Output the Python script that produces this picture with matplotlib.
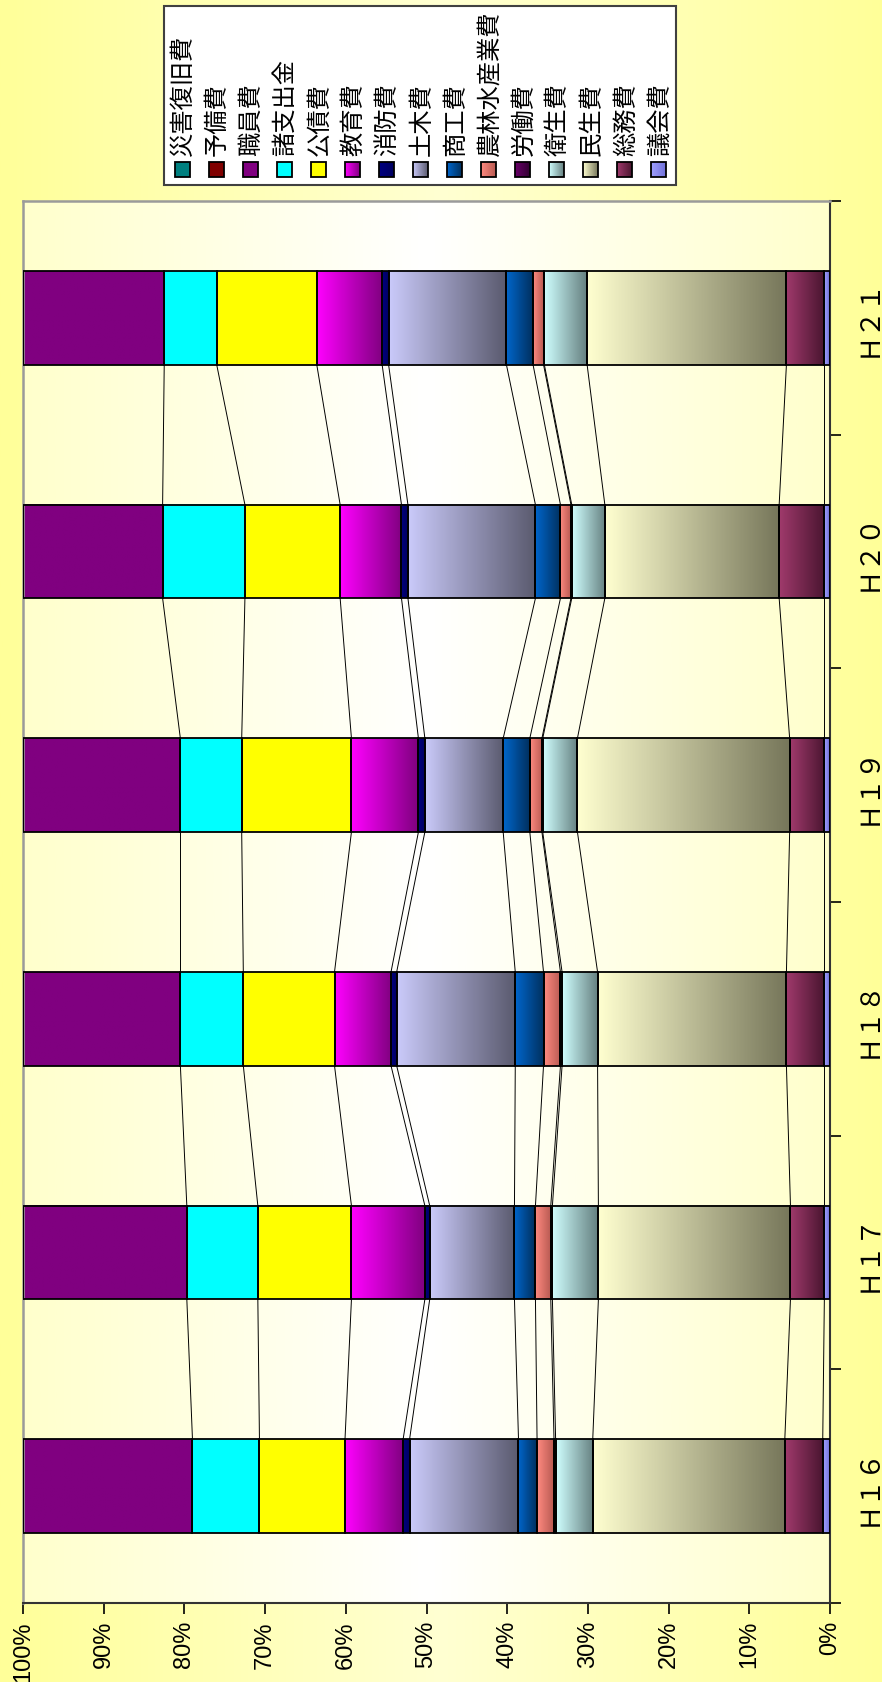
import numpy as np
import matplotlib
matplotlib.use("Agg")
import matplotlib.pyplot as plt
import matplotlib.transforms as mtransforms
from matplotlib import font_manager
from matplotlib.colors import LinearSegmentedColormap
from matplotlib.patches import Rectangle

# Fiscal years (category axis)
years = ["Ｈ１６", "Ｈ１７", "Ｈ１８", "Ｈ１９", "Ｈ２０", "Ｈ２１"]

# Expenditure shares by purpose (%), stacked from the 0% side
gikai = [0.9, 0.7, 0.7, 0.7, 0.7, 0.7]          # 議会費
soumu = [4.7, 4.2, 4.7, 4.3, 5.6, 4.7]          # 総務費
minsei = [23.8, 23.8, 23.4, 26.3, 21.6, 24.7]   # 民生費
eisei = [4.6, 5.7, 4.4, 4.3, 4.1, 5.3]          # 衛生費
roudou = [0.2, 0.2, 0.2, 0.1, 0.1, 0.1]         # 労働費
nourin = [2.1, 1.9, 2.1, 1.5, 1.3, 1.3]         # 農林水産業費
shoukou = [2.3, 2.6, 3.5, 3.3, 3.1, 3.3]        # 商工費
doboku = [13.5, 10.5, 14.7, 9.7, 15.8, 14.6]    # 土木費
shoubou = [0.8, 0.6, 0.7, 0.8, 0.8, 0.8]        # 消防費
kyouiku = [7.2, 9.1, 7.0, 8.3, 7.6, 8.1]        # 教育費
kousai = [10.6, 11.6, 11.3, 13.6, 11.8, 12.4]   # 公債費
shoshishutsu = [8.3, 8.8, 7.8, 7.6, 10.2, 6.5]  # 諸支出金
shokuin = [21.0, 20.3, 19.5, 19.5, 17.3, 17.5]  # 職員費
yobi = [0.0, 0.0, 0.0, 0.0, 0.0, 0.0]           # 予備費
saigai = [0.0, 0.0, 0.0, 0.0, 0.0, 0.0]         # 災害復旧費

series_names = ["議会費", "総務費", "民生費", "衛生費", "労働費", "農林水産業費",
                "商工費", "土木費", "消防費", "教育費", "公債費", "諸支出金",
                "職員費", "予備費", "災害復旧費"]
series_values = [gikai, soumu, minsei, eisei, roudou, nourin, shoukou, doboku,
                 shoubou, kyouiku, kousai, shoshishutsu, shokuin, yobi, saigai]

pct_ticks = [0, 10, 20, 30, 40, 50, 60, 70, 80, 90, 100]

# Fill colours: (high-value side, low-value side) for the gradient fills
fills = [
    ("#A0A0FF", "#7070D8"),   # 議会費
    ("#A03A6C", "#4A1530"),   # 総務費
    ("#FFFFD0", "#76765A"),   # 民生費
    ("#D0FFFF", "#658080"),   # 衛生費
    ("#6A006A", "#300030"),   # 労働費
    ("#FF8A80", "#B85A52"),   # 農林水産業費
    ("#0066CC", "#00305E"),   # 商工費
    ("#CACAFA", "#5A5A6E"),   # 土木費
    ("#000080", "#000060"),   # 消防費
    ("#FF00FF", "#800080"),   # 教育費
    ("#FFFF00", "#FFFF00"),   # 公債費
    ("#00FFFF", "#00FFFF"),   # 諸支出金
    ("#800080", "#800080"),   # 職員費
    ("#800000", "#800000"),   # 予備費
    ("#008080", "#008080"),   # 災害復旧費
]

CJK = ["Noto Sans CJK JP", "DejaVu Sans"]
installed = {f.name for f in font_manager.fontManager.ttflist}
if "Liberation Sans Narrow" in installed:
    TICK_FONT, TICK_SIZE = ["Liberation Sans Narrow", "DejaVu Sans"], 20
else:
    TICK_FONT, TICK_SIZE = ["Liberation Sans", "DejaVu Sans"], 17

W_PX, H_PX = 882, 1682
fig = plt.figure(figsize=(W_PX / 100, H_PX / 100), dpi=100)

# Page background gradient
bg = fig.add_axes([0, 0, 1, 1], zorder=-10)
bg_cmap = LinearSegmentedColormap.from_list("bg", ["#FFFF99", "#FFFFD2", "#FFFF99"])
bg.imshow(np.linspace(0, 1, 512)[None, :], cmap=bg_cmap, aspect="auto",
          extent=(0, 1, 0, 1), interpolation="bilinear")
bg.set_axis_off()

# Plot area
L, R, T, B = 23, 830, 201, 1603
ax = fig.add_axes([L / W_PX, 1 - B / H_PX, (R - L) / W_PX, (B - T) / H_PX])
pa_cmap = LinearSegmentedColormap.from_list("pa", ["#FFFFCC", "#FFFFFF", "#FFFFCC"])
ax.imshow(np.linspace(0, 1, 512)[None, :], cmap=pa_cmap, aspect="auto",
          extent=(100, 0, -0.5, 5.5), interpolation="bilinear", zorder=0)

vals = np.array(series_values, dtype=float)
vals = vals / vals.sum(axis=0) * 100.0
cum = np.vstack([np.zeros(len(years)), np.cumsum(vals, axis=0)])
ypos = np.arange(len(years))
bar_h = 0.4

# Series lines between neighbouring columns
for k in range(1, len(series_names) - 2):
    for i in range(len(years) - 1):
        ax.plot([cum[k][i], cum[k][i + 1]], [ypos[i] + bar_h / 2, ypos[i + 1] - bar_h / 2],
                color="black", lw=0.7, zorder=1.5)

grad = np.linspace(0, 1, 256)[None, :]
for j, name in enumerate(series_names):
    c_hi, c_lo = fills[j]
    cmap = LinearSegmentedColormap.from_list(name, [c_hi, c_lo])
    for i in range(len(years)):
        v = vals[j][i]
        if v <= 0:
            continue
        s = cum[j][i]
        ax.imshow(grad, cmap=cmap, aspect="auto", interpolation="bilinear",
                  extent=(s + v, s, ypos[i] - bar_h / 2, ypos[i] + bar_h / 2), zorder=2)
    ax.barh(ypos, vals[j], left=cum[j], height=bar_h,
            facecolor="none", edgecolor="black", lw=1.3, zorder=3)

ax.set_xlim(100, 0)
ax.set_ylim(-0.5, 5.5)

# Value axis (bottom)
ax.set_xticks(pct_ticks)
ax.set_xticklabels([f"{t}%" for t in pct_ticks], rotation=90,
                   fontsize=TICK_SIZE, family=TICK_FONT)
ax.tick_params(axis="x", direction="out", length=8, width=1.2, pad=5, colors="black")

# Category axis (right): boundary ticks, labels placed beside the axis
ax.yaxis.tick_right()
ax.set_yticks([])
ax.set_yticks(np.arange(-0.5, 6.0, 1.0), minor=True)
ax.tick_params(axis="y", which="minor", direction="out", length=8, width=1.2,
               labelright=False)
lab_tr = mtransforms.blended_transform_factory(fig.transFigure, ax.transData)
for i, yl in enumerate(years):
    ax.text(868 / W_PX, ypos[i], yl, transform=lab_tr, rotation=90,
            ha="center", va="center", fontsize=19, family=CJK, clip_on=False)

for side in ("top", "left"):
    ax.spines[side].set_color("#9A9A9A")
    ax.spines[side].set_linewidth(1.8)
for side in ("right", "bottom"):
    ax.spines[side].set_color("#333333")
    ax.spines[side].set_linewidth(1.5)

# Legend drawn in page pixel coordinates
ov = fig.add_axes([0, 0, 1, 1], zorder=5)
ov.set_xlim(0, W_PX)
ov.set_ylim(H_PX, 0)
ov.set_axis_off()
ov.add_patch(Rectangle((164, 5.5), 512, 179, facecolor="white",
                       edgecolor="#404040", lw=1.5, zorder=1))
legend_order = list(range(len(series_names)))[::-1]
x0, dx, my, ms = 182, 34.07, 169, 15
for n, j in enumerate(legend_order):
    cx = x0 + n * dx
    c_hi, c_lo = fills[j]
    cmap = LinearSegmentedColormap.from_list("lg%d" % j, [c_hi, c_lo])
    ov.imshow(grad, cmap=cmap, aspect="auto", interpolation="bilinear",
              extent=(cx - ms / 2, cx + ms / 2, my + ms / 2, my - ms / 2), zorder=2)
    ov.add_patch(Rectangle((cx - ms / 2, my - ms / 2), ms, ms, facecolor="none",
                           edgecolor="black", lw=1.3, zorder=3))
    ov.text(cx + 1, 156, series_names[j], rotation=90, ha="center", va="bottom",
            fontsize=17.5, family=CJK, zorder=4)
ov.set_xlim(0, W_PX)
ov.set_ylim(H_PX, 0)

fig.savefig("out.png", dpi=100, facecolor="#FFFF99")
